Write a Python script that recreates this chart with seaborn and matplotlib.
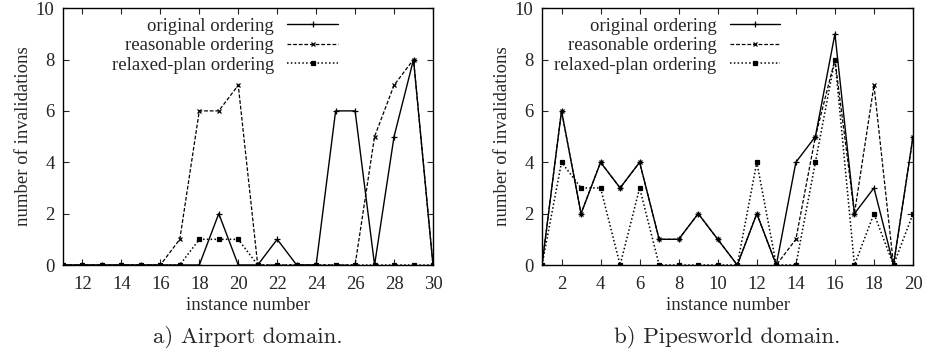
import matplotlib
matplotlib.use("Agg")
import matplotlib.pyplot as plt
import seaborn as sns

# ---------------------------------------------------------
# data
# ---------------------------------------------------------
airport_x = list(range(11, 31))
airport_original = [0, 0, 0, 0, 0, 0, 0, 0, 2, 0, 0, 1, 0, 0, 6, 6, 0, 5, 8, 0]
airport_reasonable = [0, 0, 0, 0, 0, 0, 1, 6, 6, 7, 0, 0, 0, 0, 0, 0, 5, 7, 8, 0]
airport_relaxed = [0, 0, 0, 0, 0, 0, 0, 1, 1, 1, 0, 0, 0, 0, 0, 0, 0, 0, 0, 0]

pipes_x = list(range(1, 21))
pipes_original = [0, 6, 2, 4, 3, 4, 1, 1, 2, 1, 0, 2, 0, 4, 5, 9, 2, 3, 0, 5]
pipes_reasonable = [0, 6, 2, 4, 3, 4, 1, 1, 2, 1, 0, 2, 0, 1, 5, 8, 2, 7, 0, 5]
pipes_relaxed = [0, 4, 3, 3, 0, 3, 0, 0, 0, 0, 0, 4, 0, 0, 4, 8, 0, 2, 0, 2]

series_labels = ["original ordering", "reasonable ordering", "relaxed-plan ordering"]
captions = ["a) Airport domain.", "b) Pipesworld domain."]

# ---------------------------------------------------------
# style
# ---------------------------------------------------------
sns.set_style("ticks")
plt.rcParams["font.family"] = ["Liberation Serif", "DejaVu Serif"]
plt.rcParams["xtick.direction"] = "in"
plt.rcParams["ytick.direction"] = "in"
plt.rcParams["xtick.top"] = True
plt.rcParams["ytick.right"] = True

line_styles = [
    dict(linestyle="-", marker="+", markersize=5, linewidth=1.0),
    dict(linestyle=(0, (3, 1.5)), marker="x", markersize=3.5, linewidth=0.9),
    dict(linestyle=(0, (1, 1.5)), marker="s", markersize=3, linewidth=1.1),
]

fig = plt.figure(figsize=(9.26, 3.54), dpi=100)
ax_a = fig.add_axes([0.068, 0.2514, 0.3996, 0.7256])
ax_b = fig.add_axes([0.5853, 0.2514, 0.4007, 0.7256])

# legend anchor (right end of the line sample) differs per panel
panels = [
    (ax_a, airport_x, [airport_original, airport_reasonable, airport_relaxed], (11, 30), range(12, 31, 2), 0.743),
    (ax_b, pipes_x, [pipes_original, pipes_reasonable, pipes_relaxed], (1, 20), range(2, 21, 2), 0.642),
]

for (ax, xs, ys, xlim, xticks, leg_x), caption in zip(panels, captions):
    for y, lab, st in zip(ys, series_labels, line_styles):
        sns.lineplot(
            x=xs, y=y, ax=ax, color="black", label=lab,
            markeredgecolor="black", markerfacecolor="black",
            markeredgewidth=0.9, **st
        )

    ax.set_xlim(*xlim)
    ax.set_ylim(0, 10)
    ax.set_xticks(list(xticks))
    ax.set_yticks(range(0, 11, 2))
    ax.tick_params(length=4, width=0.8, labelsize=13.5)
    ax.tick_params(axis="x", pad=8)
    ax.tick_params(axis="y", pad=6)
    for spine in ax.spines.values():
        spine.set_linewidth(1.0)
        spine.set_color("black")

    ax.set_xlabel("instance number", fontsize=13.5, labelpad=3)
    ax.set_ylabel("number of invalidations", fontsize=13.5, labelpad=3)

    ax.legend(
        loc="upper right",
        bbox_to_anchor=(leg_x, 0.962),
        frameon=False,
        markerfirst=False,
        fontsize=13.5,
        handlelength=2.7,
        labelspacing=0.12,
        borderaxespad=0.0,
        borderpad=0.0,
        handletextpad=0.7,
    )

    ax.text(
        0.5, -0.303, caption,
        transform=ax.transAxes,
        ha="center", va="baseline",
        fontsize=16.5,
        family=["cmr10", "DejaVu Serif"],
    )

fig.savefig("out.png", dpi=100)
